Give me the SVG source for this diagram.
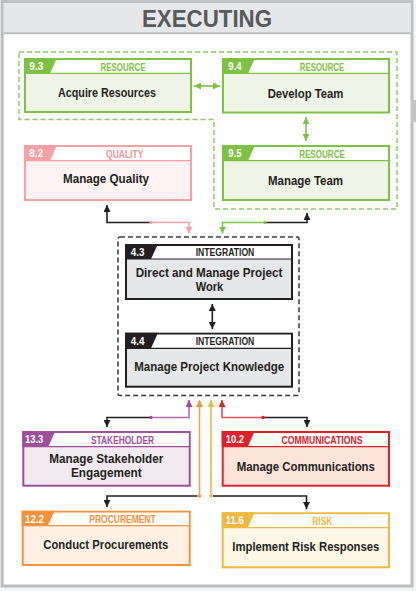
<svg xmlns="http://www.w3.org/2000/svg" width="416" height="591" viewBox="0 0 416 591">
<defs>
<style>
text{font-family:"Liberation Sans","Open Sans",Arial,sans-serif;font-weight:bold}
.main{font-size:13.5px;fill:#231f20;text-anchor:middle}
.num{font-size:10.5px;fill:#ffffff}
.cat{font-size:10.5px;text-anchor:middle}
.box{stroke-width:2}
.hdr{stroke-width:1.2}
.cn{fill:none;stroke-width:1.6}
.g .box,.g .hdr{stroke:#7dc242}.g .b{fill:#eff5e6}.g .t{fill:#7dc242}.g .cat{fill:#7dc242}
.p .box,.p .hdr{stroke:#f7a1a6}.p .b{fill:#fef2f2}.p .t{fill:#f7a1a6}.p .cat{fill:#f4939a}
.k .box,.k .hdr{stroke:#231f20}.k .b{fill:#e6e7e8}.k .t{fill:#231f20}.k .cat{fill:#231f20}
.v .box,.v .hdr{stroke:#9e4f99}.v .b{fill:#f3e9f1}.v .t{fill:#9e4f99}.v .cat{fill:#9e4f99}
.r .box,.r .hdr{stroke:#e0202b}.r .b{fill:#fce4db}.r .t{fill:#e0202b}.r .cat{fill:#e0202b}
.o .box,.o .hdr{stroke:#f7923a}.o .b{fill:#fef0e3}.o .t{fill:#f7923a}.o .cat{fill:#f7923a}
.y .box,.y .hdr{stroke:#efb93f}.y .b{fill:#fef6e6}.y .t{fill:#efb93f}.y .cat{fill:#efb93f}
</style>
<marker id="aK" markerUnits="userSpaceOnUse" viewBox="0 0 7 7" markerWidth="7" markerHeight="7" refX="7" refY="3.5" orient="auto-start-reverse"><path d="M0,0 L7,3.5 L0,7 z" fill="#231f20"/></marker>
<marker id="aG" markerUnits="userSpaceOnUse" viewBox="0 0 7 7" markerWidth="7" markerHeight="7" refX="7" refY="3.5" orient="auto-start-reverse"><path d="M0,0 L7,3.5 L0,7 z" fill="#7dc242"/></marker>
<marker id="aP" markerUnits="userSpaceOnUse" viewBox="0 0 7 7" markerWidth="7" markerHeight="7" refX="7" refY="3.5" orient="auto"><path d="M0,0 L7,3.5 L0,7 z" fill="#f7a1a6"/></marker>
<marker id="aV" markerUnits="userSpaceOnUse" viewBox="0 0 7 7" markerWidth="7" markerHeight="7" refX="7" refY="3.5" orient="auto"><path d="M0,0 L7,3.5 L0,7 z" fill="#9e4f99"/></marker>
<marker id="aO" markerUnits="userSpaceOnUse" viewBox="0 0 7 7" markerWidth="7" markerHeight="7" refX="7" refY="3.5" orient="auto"><path d="M0,0 L7,3.5 L0,7 z" fill="#f7923a"/></marker>
<marker id="aY" markerUnits="userSpaceOnUse" viewBox="0 0 7 7" markerWidth="7" markerHeight="7" refX="7" refY="3.5" orient="auto"><path d="M0,0 L7,3.5 L0,7 z" fill="#efb93f"/></marker>
<marker id="aR" markerUnits="userSpaceOnUse" viewBox="0 0 7 7" markerWidth="7" markerHeight="7" refX="7" refY="3.5" orient="auto"><path d="M0,0 L7,3.5 L0,7 z" fill="#e0202b"/></marker>
</defs>

<rect x="0" y="0" width="416" height="591" fill="#f4f4f5"/>
<rect x="2.2" y="1.6" width="409.8" height="584.4" fill="#ffffff" stroke="#bcbec0" stroke-width="3"/>
<rect x="411" y="100" width="5" height="22" fill="#c4c5c7"/>
<rect x="3.7" y="3.1" width="406.8" height="29.6" fill="#e6e7e8"/>
<line x1="3.7" y1="33.3" x2="410.5" y2="33.3" stroke="#bcbec0" stroke-width="2"/>
<text x="207" y="27" font-size="24" fill="#58595b" text-anchor="middle" textLength="130" lengthAdjust="spacingAndGlyphs">EXECUTING</text>

<g id="groups">
<path d="M19,52 H397 V209 H214 V119.5 H19 Z" fill="none" stroke="#8fcb68" stroke-width="1.5" stroke-dasharray="5 3"/>
<rect x="118" y="237" width="181" height="158.5" rx="2" fill="none" stroke="#3a3a3a" stroke-width="1.5" stroke-dasharray="5 3"/>
</g>

<g id="n93" class="g">
<rect class="box b" x="25" y="59" width="166" height="53"/>
<rect x="26" y="60" width="164" height="13.3" fill="#fff"/>
<line class="hdr" x1="25" y1="73.3" x2="191" y2="73.3"/>
<polygon class="t" points="24,58 57,58 50,73.3 24,73.3"/>
<text class="num" x="29.3" y="70" textLength="14" lengthAdjust="spacingAndGlyphs">9.3</text>
<text class="cat" x="123" y="70.5" textLength="45" lengthAdjust="spacingAndGlyphs">RESOURCE</text>
<text class="main" x="107" y="97.2" textLength="98" lengthAdjust="spacingAndGlyphs">Acquire Resources</text>
</g>

<g id="n94" class="g">
<rect class="box b" x="223" y="59" width="166" height="53.5"/>
<rect x="224" y="60" width="164" height="13.3" fill="#fff"/>
<line class="hdr" x1="223" y1="73.3" x2="389" y2="73.3"/>
<polygon class="t" points="222,58 255,58 248,73.3 222,73.3"/>
<text class="num" x="228.3" y="70" textLength="13.4" lengthAdjust="spacingAndGlyphs">9.4</text>
<text class="cat" x="322" y="70.5" textLength="44.5" lengthAdjust="spacingAndGlyphs">RESOURCE</text>
<text class="main" x="305.5" y="97.8" textLength="75.7" lengthAdjust="spacingAndGlyphs">Develop Team</text>
</g>

<g id="n82" class="p">
<rect class="box b" x="25" y="146" width="166" height="54"/>
<rect x="26" y="147" width="164" height="13.7" fill="#fff"/>
<line class="hdr" x1="25" y1="160.7" x2="191" y2="160.7"/>
<polygon class="t" points="24,145 57,145 50,160.7 24,160.7"/>
<text class="num" x="29.3" y="157.3" textLength="14" lengthAdjust="spacingAndGlyphs">8.2</text>
<text class="cat" x="124.7" y="157.6" textLength="37.3" lengthAdjust="spacingAndGlyphs">QUALITY</text>
<text class="main" x="106" y="183" textLength="86" lengthAdjust="spacingAndGlyphs">Manage Quality</text>
</g>

<g id="n95" class="g">
<rect class="box b" x="223" y="146" width="166" height="54"/>
<rect x="224" y="147" width="164" height="13.7" fill="#fff"/>
<line class="hdr" x1="223" y1="160.7" x2="389" y2="160.7"/>
<polygon class="t" points="222,145 255,145 248,160.7 222,160.7"/>
<text class="num" x="228.3" y="157.3" textLength="13.4" lengthAdjust="spacingAndGlyphs">9.5</text>
<text class="cat" x="322" y="157.6" textLength="45.7" lengthAdjust="spacingAndGlyphs">RESOURCE</text>
<text class="main" x="305.5" y="184.6" textLength="75" lengthAdjust="spacingAndGlyphs">Manage Team</text>
</g>

<g id="n43" class="k">
<rect class="box b" x="126" y="245" width="166" height="54"/>
<rect x="127" y="246" width="164" height="13" fill="#fff"/>
<line class="hdr" x1="126" y1="259" x2="292" y2="259"/>
<polygon class="t" points="125,244 158,244 151,259 125,259"/>
<text class="num" x="130.7" y="255.7" textLength="13.7" lengthAdjust="spacingAndGlyphs">4.3</text>
<text class="cat" x="225" y="256" textLength="58.7" lengthAdjust="spacingAndGlyphs">INTEGRATION</text>
<text class="main" x="209" y="276.5" textLength="146.6" lengthAdjust="spacingAndGlyphs">Direct and Manage Project</text>
<text class="main" x="209.5" y="290.5" textLength="27.6" lengthAdjust="spacingAndGlyphs">Work</text>
</g>

<g id="n44" class="k">
<rect class="box b" x="126" y="333.7" width="166" height="53"/>
<rect x="127" y="334.7" width="164" height="13.6" fill="#fff"/>
<line class="hdr" x1="126" y1="348.3" x2="292" y2="348.3"/>
<polygon class="t" points="125,332.7 158,332.7 151,348.3 125,348.3"/>
<text class="num" x="130.7" y="344.6" textLength="13.7" lengthAdjust="spacingAndGlyphs">4.4</text>
<text class="cat" x="225" y="345" textLength="58.7" lengthAdjust="spacingAndGlyphs">INTEGRATION</text>
<text class="main" x="209.2" y="371.4" textLength="150" lengthAdjust="spacingAndGlyphs">Manage Project Knowledge</text>
</g>

<g id="n133" class="v">
<rect class="box b" x="23.3" y="432" width="166.4" height="53.7"/>
<rect x="24.3" y="433" width="164.4" height="13.7" fill="#fff"/>
<line class="hdr" x1="23.3" y1="446.7" x2="189.7" y2="446.7"/>
<polygon class="t" points="22.3,431 55.3,431 48.3,446.7 22.3,446.7"/>
<text class="num" x="25" y="443.4" textLength="18.3" lengthAdjust="spacingAndGlyphs">13.3</text>
<text class="cat" x="122.5" y="443.6" textLength="63" lengthAdjust="spacingAndGlyphs">STAKEHOLDER</text>
<text class="main" x="106.3" y="463.4" textLength="114" lengthAdjust="spacingAndGlyphs">Manage Stakeholder</text>
<text class="main" x="106.3" y="477.4" textLength="70.7" lengthAdjust="spacingAndGlyphs">Engagement</text>
</g>

<g id="n102" class="r">
<rect class="box b" x="222.7" y="432" width="166.3" height="53.7"/>
<rect x="223.7" y="433" width="164.3" height="13.7" fill="#fff"/>
<line class="hdr" x1="222.7" y1="446.7" x2="389" y2="446.7"/>
<polygon class="t" points="221.7,431 254.7,431 247.7,446.7 221.7,446.7"/>
<text class="num" x="225.7" y="443.4" textLength="18.3" lengthAdjust="spacingAndGlyphs">10.2</text>
<text class="cat" x="322" y="443.6" textLength="81" lengthAdjust="spacingAndGlyphs">COMMUNICATIONS</text>
<text class="main" x="305.8" y="470.5" textLength="138.3" lengthAdjust="spacingAndGlyphs">Manage Communications</text>
</g>

<g id="n122" class="o">
<rect class="box b" x="22.7" y="511.7" width="167" height="53.3"/>
<rect x="23.7" y="512.7" width="165" height="13" fill="#fff"/>
<line class="hdr" x1="22.7" y1="525.7" x2="189.7" y2="525.7"/>
<polygon class="t" points="21.7,510.7 54.7,510.7 47.7,525.7 21.7,525.7"/>
<text class="num" x="25" y="522.5" textLength="19" lengthAdjust="spacingAndGlyphs">12.2</text>
<text class="cat" x="122.5" y="522.7" textLength="66.3" lengthAdjust="spacingAndGlyphs">PROCUREMENT</text>
<text class="main" x="105.8" y="549" textLength="125" lengthAdjust="spacingAndGlyphs">Conduct Procurements</text>
</g>

<g id="n116" class="y">
<rect class="box b" x="222.7" y="513.3" width="166.3" height="54"/>
<rect x="223.7" y="514.3" width="164.3" height="13.4" fill="#fff"/>
<line class="hdr" x1="222.7" y1="527.7" x2="389" y2="527.7"/>
<polygon class="t" points="221.7,512.3 254.7,512.3 247.7,527.7 221.7,527.7"/>
<text class="num" x="225.7" y="524.3" textLength="18.3" lengthAdjust="spacingAndGlyphs">11.6</text>
<text class="cat" x="322.3" y="524.5" textLength="20" lengthAdjust="spacingAndGlyphs">RISK</text>
<text class="main" x="305.8" y="551.3" textLength="147" lengthAdjust="spacingAndGlyphs">Implement Risk Responses</text>
</g>

<g id="connectors">
<path class="cn" d="M194,86 H220" stroke="#7dc242" marker-start="url(#aG)" marker-end="url(#aG)"/>
<path class="cn" d="M306,117 V141" stroke="#7dc242" marker-start="url(#aG)" marker-end="url(#aG)"/>
<path class="cn" d="M212.3,304 V329" stroke="#231f20" marker-start="url(#aK)" marker-end="url(#aK)"/>

<path class="cn" d="M151,222.5 H107 V205" stroke="#231f20" marker-end="url(#aK)"/>
<path class="cn" d="M151,222.5 H189 V233.5" stroke="#f7a1a6" marker-end="url(#aP)"/>
<path class="cn" d="M265,222.5 H222.5 V233.5" stroke="#7dc242" marker-end="url(#aG)"/>
<path class="cn" d="M265,222.5 H307 V213" stroke="#231f20" marker-end="url(#aK)"/>
<circle cx="151" cy="222.5" r="1.7" fill="#f7a1a6"/>
<circle cx="265" cy="222.5" r="1.7" fill="#7dc242"/>

<path class="cn" d="M151,417.5 H189 V400" stroke="#b06aab" marker-end="url(#aV)"/>
<path class="cn" d="M151,417.5 H107 V427" stroke="#231f20" marker-end="url(#aK)"/>
<path class="cn" d="M263,417.5 H222 V400" stroke="#e3505a" marker-end="url(#aR)"/>
<path class="cn" d="M263,417.5 H307 V427" stroke="#231f20" marker-end="url(#aK)"/>
<circle cx="151" cy="417.5" r="1.7" fill="#9e4f99"/>
<circle cx="263" cy="417.5" r="1.7" fill="#e0202b"/>

<path class="cn" d="M199.5,496 V400" stroke="#f7a35a" marker-end="url(#aO)"/>
<path class="cn" d="M211,496 V400" stroke="#efb93f" marker-end="url(#aY)"/>
<path class="cn" d="M197.5,496 H107 V507" stroke="#231f20" marker-end="url(#aK)"/>
<path class="cn" d="M213,496 H306.5 V509" stroke="#231f20" marker-end="url(#aK)"/>
<circle cx="199.5" cy="496" r="1.7" fill="#f7923a"/>
<circle cx="211" cy="496" r="1.7" fill="#efb93f"/>
</g>
</svg>
